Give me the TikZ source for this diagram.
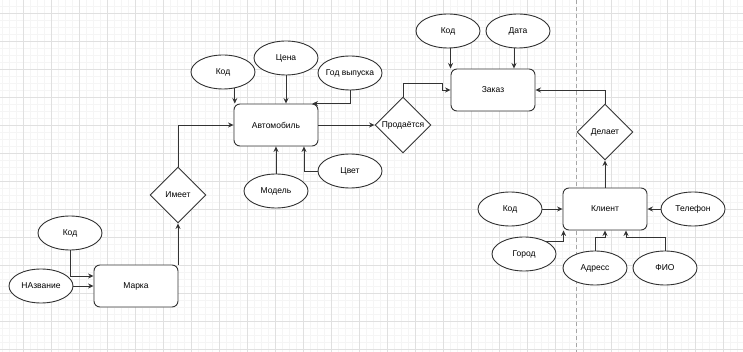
\documentclass[tikz,border=0pt]{standalone}
\usepackage{fontspec}
\setmainfont{Liberation Sans}
\usepackage{tikz}
\usetikzlibrary{arrows.meta,shapes.geometric,calc}
\definecolor{gridmaj}{HTML}{E0E0E0}
\definecolor{gridmin}{HTML}{F5F5F5}
\definecolor{edgeline}{HTML}{333333}

\begin{document}
\begin{tikzpicture}[
        x=1pt, y=-1pt,
        every node/.style={font=\fontsize{8.5}{10}\selectfont},
        ent/.style={draw=edgeline, fill=white, line width=0.9pt, rounded corners=6pt,
                minimum width=84pt, minimum height=42pt, inner sep=0pt},
        attr/.style={ellipse, draw=edgeline, fill=white, line width=0.9pt,
                minimum width=64pt, minimum height=34pt, inner xsep=-6pt, inner ysep=0pt},
        rel/.style={diamond, draw=edgeline, fill=white, line width=0.9pt,
                minimum width=56pt, minimum height=56pt, inner sep=0pt},
        conn/.style={draw=edgeline, line width=0.9pt, -{Stealth[length=5.5pt,width=5pt]}},
        gmin/.style={draw=gridmin, line width=0.5pt},
        gmaj/.style={draw=gridmaj, line width=0.7pt},
        split/.style={draw=black!35, line width=0.8pt, dash pattern=on 4pt off 3pt}
    ]
    \useasboundingbox (0,0) rectangle (743,352);

    % ================= fon: setka i razdelitel' =========================
    \foreach \gx in {2,9,...,743}
    \draw[gmin] (\gx,0) -- (\gx,352);
    \foreach \gy in {6,13,...,352}
    \draw[gmin] (0,\gy) -- (743,\gy);
    \foreach \gx in {23,51,...,743}
    \draw[gmaj] (\gx,0) -- (\gx,352);
    \foreach \gy in {13,41,...,352}
    \draw[gmaj] (0,\gy) -- (743,\gy);
    \draw[split] (576,0) -- (576,352);

    % ================= marka i avtomobil' ===============================
    \node[ent] (marka) at (136,286) {Марка};
    \node[attr] (kod1) at (70,233) {Код};
    \node[attr] (nazv) at (41,286) {НАзвание};
    \node[rel] (imeet) at (178,195) {Имеет};

    \node[ent] (avto) at (276,125) {Автомобиль};
    \node[attr] (kod2) at (223,72) {Код};
    \node[attr] (cena) at (286,58) {Цена};
    \node[attr] (god) at (350,73) {Год выпуска};
    \node[attr] (model) at (276,191) {Модель};
    \node[attr] (cvet) at (350,171) {Цвет};

    % ================= zakaz i klient ===================================
    \node[rel] (prod) at (403,125) {Продаётся};
    \node[ent] (zakaz) at (493,90) {Заказ};
    \node[attr] (kod3) at (448,31) {Код};
    \node[attr] (data) at (518,31) {Дата};

    \node[rel] (delaet) at (605,132) {Делает};
    \node[ent] (klient) at (605,209) {Клиент};
    \node[attr] (kod4) at (510,209) {Код};
    \node[attr] (tel) at (693,209) {Телефон};
    \node[attr] (gorod) at (524,254) {Город};
    \node[attr] (adres) at (595,268) {Адресс};
    \node[attr] (fio) at (665,268) {ФИО};

    % ================= svyazi ===========================================
    \draw[conn] (kod1.south) |- ([yshift=10pt]marka.west);
    \draw[conn] (nazv.east) -- (marka.west);
    \draw[conn] (marka.north -| imeet.south) -- (imeet.south);
    \draw[conn] (imeet.north) |- (avto.west);

    \draw[conn] (kod2.-54) -- (kod2.-54 |- avto.north);
    \draw[conn] (cena.south) -- (cena.south |- avto.north);
    \draw[conn] (god.south) |- ([xshift=-6pt]avto.north east);
    \draw[conn] (model.north) -- (model.north |- avto.south);
    \draw[conn] (cvet.west) -| ([xshift=28pt]avto.south);
    \draw[conn] (avto.east) -- (prod.west);

    \draw[conn] (prod.north) |- ([xshift=-8pt,yshift=7pt]zakaz.west) |- (zakaz.west);
    \draw[conn] (kod3.south -| zakaz.north west) -- (zakaz.north west);
    \draw[conn] ([xshift=21pt]zakaz.north |- data.south) -- ([xshift=21pt]zakaz.north);
    \draw[conn] (delaet.north) |- (zakaz.east);

    \draw[conn] (klient.north) -- (delaet.south);
    \draw[conn] (kod4.east) -- (klient.west);
    \draw[conn] (tel.west) -- (klient.east);
    \draw[conn] (gorod.30) -| ([xshift=1pt]klient.south west);
    \draw[conn] (adres.north) |- ([yshift=-7pt]klient.south) -- (klient.south);
    \draw[conn] (fio.north) |- ([xshift=21pt,yshift=-7pt]klient.south) -- ([xshift=21pt]klient.south);
\end{tikzpicture}
\end{document}
